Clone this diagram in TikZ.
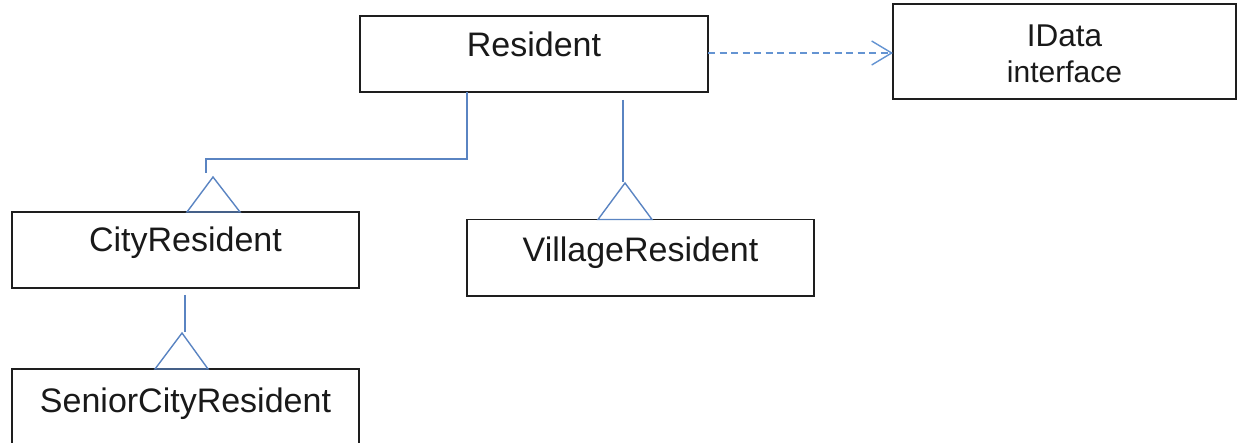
\documentclass[tikz,border=0pt]{standalone}
\usepackage{fontspec}
\setmainfont{Liberation Sans}
\usetikzlibrary{arrows.meta,calc}
\definecolor{edgeblue}{HTML}{5A84C2}
\definecolor{dashblue}{HTML}{6494D2}
\definecolor{boxline}{HTML}{1E1E1E}
\begin{document}
\begin{tikzpicture}[x=1pt,y=-1pt,
  classbox/.style={draw=boxline, line width=1.6pt, rectangle, anchor=north west,
    inner xsep=0pt, inner ysep=0pt, outer sep=0pt, minimum width=347pt,
    text height=41pt, text depth=35pt, font=\fontsize{34}{40}\selectfont, text=black!90},
  gen/.style={draw=edgeblue, line width=1.4pt, line join=miter},
  realize/.style={draw=dashblue, line width=1.4pt, dash pattern=on 7pt off 4.5pt,
    -{Straight Barb[length=20pt,width=24pt]}},
]
\useasboundingbox (0,0) rectangle (1237,443);

% classes
\node[classbox, minimum width=348pt] (res) at (360,16) {Resident};
\node[classbox, text height=40pt, text depth=36pt] (city) at (12,212) {CityResident};
\node[classbox, text height=42pt, text depth=34.5pt] (vil) at (467,219.5) {VillageResident};
\node[classbox, text height=44pt, text depth=32pt] (sen) at (12,369) {SeniorCityResident};
\node[classbox, minimum width=343pt, text height=43pt, text depth=52pt,
      font=\fontsize{30}{36}\selectfont] (idata) at (893,4)
  {\begin{tabular}[t]{@{}c@{}}{\fontsize{31.5}{36}\selectfont IData}\\interface\end{tabular}};

% apexes of the inheritance triangles
\coordinate (cityApex) at ($(city.north west)+(201,-35)$);
\coordinate (vilApex)  at ($(vil.north west)+(158,-36.5)$);
\coordinate (senApex)  at ($(sen.north west)+(170,-36)$);

% Resident -> CityResident
\draw[gen] ($(res.south west)+(107,0)$) |- ($(cityApex)+(-7,-18)$) -- ($(cityApex)+(-7,-4)$);
\draw[gen] ($(city.north west)+(175,0)$) -- (cityApex) -- ($(city.north west)+(228,0)$) -- cycle;

% Resident -> VillageResident
\draw[gen] ($(res.south west)+(263,8)$) -- ($(vilApex)+(-2,-1)$);
\draw[gen] ($(vil.north west)+(131,0)$) -- (vilApex) -- ($(vil.north west)+(185,0)$) -- cycle;

% CityResident -> SeniorCityResident
\draw[gen] ($(city.south west)+(173,7)$) -- ($(senApex)+(3,-1)$);
\draw[gen] ($(sen.north west)+(143,0)$) -- (senApex) -- ($(sen.north west)+(196,0)$) -- cycle;

% Resident realizes IData
\coordinate (dashStart) at ($(res.east)+(0,-1)$);
\draw[realize] (dashStart) -- (dashStart -| idata.west);
\end{tikzpicture}
\end{document}
